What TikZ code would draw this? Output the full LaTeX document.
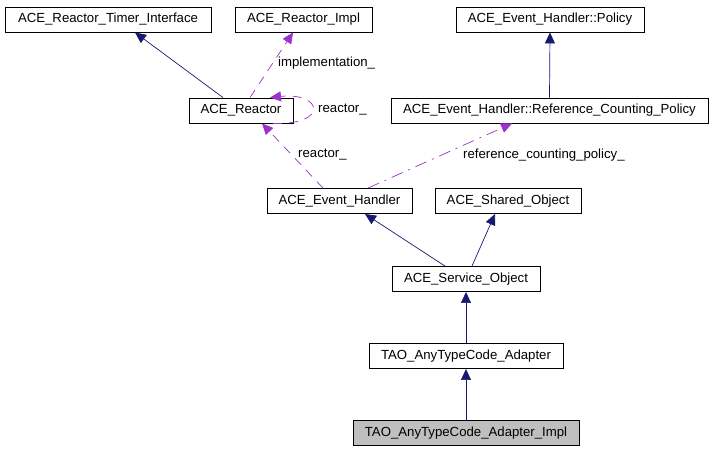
\documentclass[tikz,border=0pt]{standalone}
\usepackage{fontspec}
\setmainfont{Liberation Sans}
\usepackage{xcolor}
\usetikzlibrary{arrows.meta}
\definecolor{inhblue}{HTML}{191970}
\definecolor{usepurple}{HTML}{9A32CD}
\definecolor{implgray}{HTML}{BFBFBF}
\tikzstyle{cls} = [draw, line width=0.9pt, minimum height=25pt, inner sep=0pt, font=\fontsize{13.2}{15}\selectfont]
\tikzstyle{lbl} = [anchor=west, inner sep=0pt, font=\fontsize{13.2}{15}\selectfont]
\tikzstyle{inherit} = [line width=0.7pt, inhblue, -{Triangle[length=11pt,width=10pt]}]
\tikzstyle{uses} = [line width=0.7pt, usepurple, dash pattern=on 9pt off 7pt, -{Triangle[length=11pt,width=10pt]}]

\begin{document}
\begin{tikzpicture}[x=1pt, y=-1pt]
    \useasboundingbox (0,0) rectangle (713,451);
    \node (timer) [cls, minimum width=206pt] at (108,19.5) {ACE\_Reactor\_Timer\_Interface};
    \node (rimpl) [cls, minimum width=137pt] at (303.5,19.5) {ACE\_Reactor\_Impl};
    \node (policy) [cls, minimum width=188pt] at (550,19.5) {ACE\_Event\_Handler::Policy};
    \node (reactor) [cls, minimum width=104pt] at (241,110.5) {ACE\_Reactor};
    \node (rcpolicy) [cls, minimum width=317pt] at (549.5,110.5) {ACE\_Event\_Handler::Reference\_Counting\_Policy};
    \node (handler) [cls, minimum width=145pt] at (339.5,201) {ACE\_Event\_Handler};
    \node (shared) [cls, minimum width=146pt] at (508,201) {ACE\_Shared\_Object};
    \node (service) [cls, minimum width=148pt] at (466,279) {ACE\_Service\_Object};
    \node (adapter) [cls, minimum width=194pt] at (466,356) {TAO\_AnyTypeCode\_Adapter};
    \node (impl) [cls, minimum width=226pt, fill=implgray] at (466,433) {TAO\_AnyTypeCode\_Adapter\_Impl};

    \node (limpl) [lbl] at (278,63) {implementation\_};
    \node (lself) [lbl] at (318,110) {reactor\_};
    \node (lreac) [lbl] at (298,155) {reactor\_};
    \node (lrcp) [lbl] at (463,155) {reference\_counting\_policy\_};

    \draw[inherit] ([xshift=-18pt]reactor.north) -- ([xshift=27pt]timer.south);
    \draw[uses] ([xshift=9pt]reactor.north) -- ([xshift=-10.5pt]rimpl.south);
    \draw[uses] ([xshift=32pt]reactor.south) .. controls (330,125) and (322,92) .. ([xshift=29pt]reactor.north);
    \draw[uses] ([xshift=-16.5pt]handler.north) -- ([xshift=21pt]reactor.south);
    \draw[uses, dash pattern=on 12pt off 6pt on 2pt off 6pt] ([xshift=28.5pt]handler.north) -- ([xshift=-37.5pt]rcpolicy.south);
    \draw[inherit] (rcpolicy.north) -- (policy.south);
    \draw[inherit] ([xshift=-21pt]service.north) -- ([xshift=25.5pt]handler.south);
    \draw[inherit] ([xshift=6pt]service.north) -- ([xshift=-13pt]shared.south);
    \draw[inherit] (adapter.north) -- (service.south);
    \draw[inherit] (impl.north) -- (adapter.south);
\end{tikzpicture}
\end{document}
